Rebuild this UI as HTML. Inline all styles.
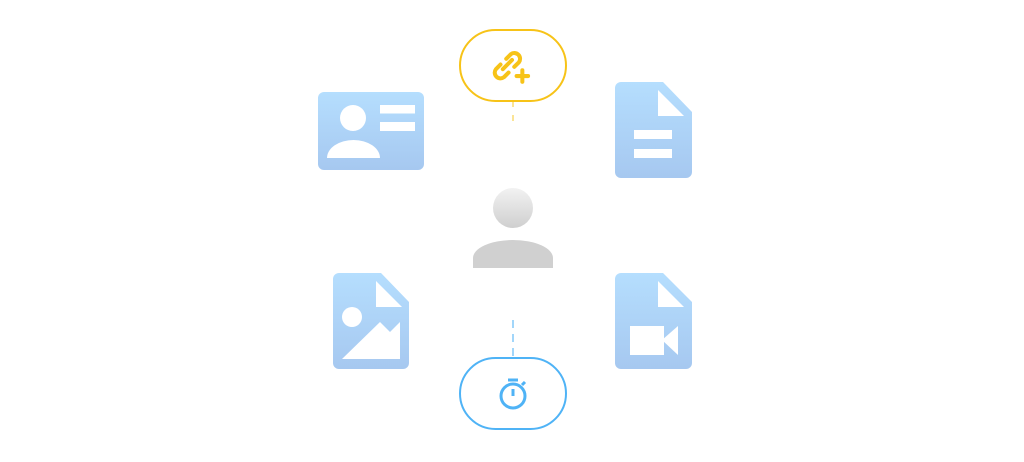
<!DOCTYPE html>
<html><head><style>body{margin:0;background:#fff;width:1024px;height:457px;overflow:hidden}</style></head><body>
<svg width="1024" height="457" viewBox="0 0 1024 457" xmlns="http://www.w3.org/2000/svg">
<defs>
<linearGradient id="b" x1="0" y1="0" x2="0" y2="1"><stop offset="0" stop-color="#b5defe"/><stop offset="1" stop-color="#a6c8f0"/></linearGradient>
<linearGradient id="g" x1="0" y1="0" x2="0" y2="1"><stop offset="0" stop-color="#f2f2f2"/><stop offset="1" stop-color="#cfcfcf"/></linearGradient>
</defs>
<line x1="513" y1="101" x2="513" y2="124" stroke="#f7c318" stroke-width="1.5" stroke-dasharray="6,8" opacity="0.6"/>
<line x1="513" y1="320" x2="513" y2="357" stroke="#4fb3f6" stroke-width="1.5" stroke-dasharray="8,6" opacity="0.7"/>
<rect x="460" y="30" width="106" height="71" rx="35.5" fill="#fff" stroke="#f7c318" stroke-width="2"/>
<rect x="460" y="358" width="106" height="71" rx="35.5" fill="#fff" stroke="#4fb3f6" stroke-width="2"/>
<g fill="none" stroke="#f7c318" stroke-width="3.5" stroke-linecap="round" transform="translate(512 68) scale(1.15) translate(-512 -68)">
<path d="M507 60 l4 -4 a5 5 0 0 1 7 7 l-4 4"/>
<path d="M509 72 l-4 4 a5 5 0 0 1 -7 -7 l4 -4"/>
<path d="M504 69 l8 -8"/>
<path d="M521 70 v10 M516 75 h10"/>
</g>
<g fill="none" stroke="#4fb3f6" stroke-width="3">
<circle cx="513" cy="396" r="12"/>
<path d="M508 380 h10 M513 389 v7 M522 385 l3 -3"/>
</g>
<rect x="318" y="92" width="106" height="78" rx="6" fill="url(#b)"/>
<circle cx="353" cy="118" r="13" fill="#fff"/>
<path d="M327 158 a26.5 18 0 0 1 53 0 z" fill="#fff"/>
<rect x="380" y="105" width="35" height="8.5" fill="#fff"/>
<rect x="380" y="122" width="35" height="9" fill="#fff"/>
<path d="M621 82 h42 l29 30 v60 a6 6 0 0 1 -6 6 h-65 a6 6 0 0 1 -6 -6 v-84 a6 6 0 0 1 6 -6z" fill="url(#b)"/>
<path d="M658 90 v26 h26z" fill="#fff"/>
<rect x="634" y="130" width="38" height="9" fill="#fff"/>
<rect x="634" y="149" width="38" height="9" fill="#fff"/>
<path d="M339 273 h42 l28 29 v61 a6 6 0 0 1 -6 6 h-64 a6 6 0 0 1 -6 -6 v-84 a6 6 0 0 1 6 -6z" fill="url(#b)"/>
<path d="M376 281 v26 h26z" fill="#fff"/>
<circle cx="352" cy="317" r="10" fill="#fff"/>
<path d="M342 359 l38 -37 l10 10 l10 -10 v37z" fill="#fff"/>
<path d="M621 273 h42 l29 29 v61 a6 6 0 0 1 -6 6 h-65 a6 6 0 0 1 -6 -6 v-84 a6 6 0 0 1 6 -6z" fill="url(#b)"/>
<path d="M658 281 v26 h26z" fill="#fff"/>
<rect x="630" y="326" width="34" height="29" fill="#fff"/>
<path d="M662 340 l16 -14 v29z" fill="#fff"/>
<circle cx="513" cy="208" r="20" fill="url(#g)"/>
<path d="M473 268 v-10 a40 18 0 0 1 80 0 v10z" fill="#d0d0d0"/>
</svg>
</body></html>
